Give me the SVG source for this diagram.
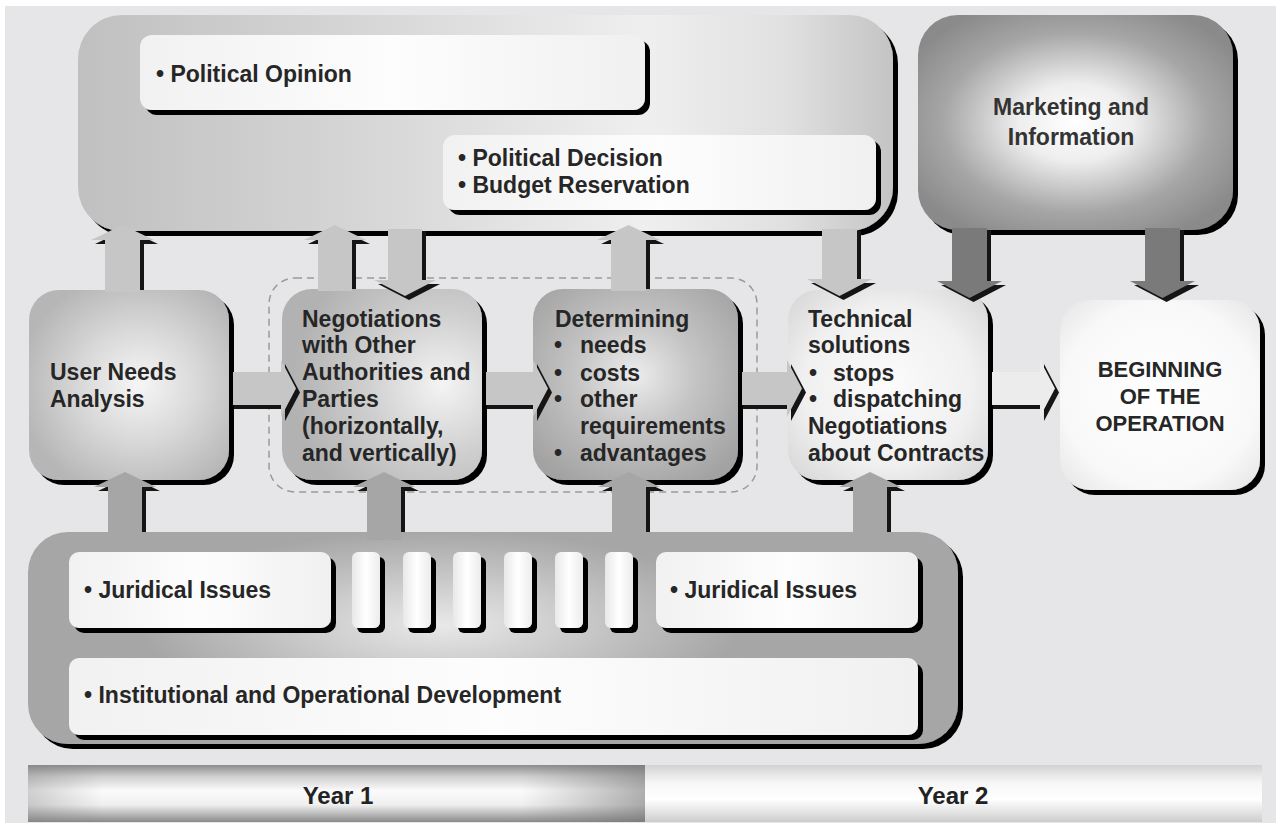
<svg xmlns="http://www.w3.org/2000/svg" width="1281" height="827" viewBox="0 0 1281 827">
<defs>
<filter id="sh" filterUnits="userSpaceOnUse" x="0" y="0" width="1281" height="827">
<feOffset in="SourceAlpha" dx="5" dy="5" result="o"/>
<feMerge><feMergeNode in="o"/><feMergeNode in="SourceGraphic"/></feMerge>
</filter>
<linearGradient id="gTop" x1="0" y1="0" x2="1" y2="0">
<stop offset="0" stop-color="#c0c0c0"/><stop offset="0.35" stop-color="#d6d6d6"/><stop offset="0.7" stop-color="#efefef"/><stop offset="0.87" stop-color="#e0e0e0"/><stop offset="1" stop-color="#c4c4c4"/>
</linearGradient>
<radialGradient id="gMkt" cx="0.5" cy="0.5" r="0.6">
<stop offset="0" stop-color="#ffffff"/><stop offset="0.3" stop-color="#eeeeee"/><stop offset="0.7" stop-color="#a6a6a6"/><stop offset="1" stop-color="#8a8a8a"/>
</radialGradient>
<linearGradient id="gW" x1="0" y1="0" x2="1" y2="0">
<stop offset="0" stop-color="#f1f1f1"/><stop offset="0.5" stop-color="#fdfdfd"/><stop offset="1" stop-color="#f0f0f0"/>
</linearGradient>
<linearGradient id="gBar" x1="0" y1="0" x2="1" y2="0">
<stop offset="0" stop-color="#e8e8e8"/><stop offset="0.5" stop-color="#ffffff"/><stop offset="1" stop-color="#ececec"/>
</linearGradient>
<radialGradient id="gUN" cx="0.55" cy="0.5" r="0.6">
<stop offset="0" stop-color="#f6f6f6"/><stop offset="0.5" stop-color="#d8d8d8"/><stop offset="1" stop-color="#b6b6b6"/>
</radialGradient>
<radialGradient id="gNeg" cx="0.8" cy="0.5" r="0.75">
<stop offset="0" stop-color="#f4f4f4"/><stop offset="0.5" stop-color="#cfcfcf"/><stop offset="1" stop-color="#b2b2b2"/>
</radialGradient>
<radialGradient id="gDet" cx="0.5" cy="0.45" r="0.65">
<stop offset="0" stop-color="#ececec"/><stop offset="0.45" stop-color="#c4c4c4"/><stop offset="1" stop-color="#a2a2a2"/>
</radialGradient>
<radialGradient id="gTech" cx="0.5" cy="0.5" r="0.7">
<stop offset="0" stop-color="#fbfbfb"/><stop offset="0.6" stop-color="#f0f0f0"/><stop offset="1" stop-color="#d4d4d4"/>
</radialGradient>
<radialGradient id="gBeg" cx="0.5" cy="0.5" r="0.7">
<stop offset="0" stop-color="#ffffff"/><stop offset="0.7" stop-color="#f8f8f8"/><stop offset="1" stop-color="#e4e4e4"/>
</radialGradient>
<radialGradient id="gGlow" cx="0.5" cy="0.5" r="0.5">
<stop offset="0" stop-color="#ffffff" stop-opacity="0.75"/><stop offset="1" stop-color="#ffffff" stop-opacity="0"/>
</radialGradient>
<linearGradient id="gY1" x1="0" y1="0" x2="0" y2="1">
<stop offset="0" stop-color="#8c8c8c"/><stop offset="0.2" stop-color="#cfcfcf"/><stop offset="0.45" stop-color="#fbfbfb"/><stop offset="0.7" stop-color="#efefef"/><stop offset="0.9" stop-color="#acacac"/><stop offset="1" stop-color="#8a8a8a"/>
</linearGradient>
<linearGradient id="gY1h" x1="0" y1="0" x2="1" y2="0">
<stop offset="0" stop-color="#808080" stop-opacity="0.35"/><stop offset="0.12" stop-color="#808080" stop-opacity="0"/><stop offset="0.8" stop-color="#808080" stop-opacity="0"/><stop offset="1" stop-color="#707070" stop-opacity="0.55"/>
</linearGradient>
<linearGradient id="gY2" x1="0" y1="0" x2="0" y2="1">
<stop offset="0" stop-color="#d2d2d2"/><stop offset="0.3" stop-color="#f6f6f6"/><stop offset="0.6" stop-color="#ffffff"/><stop offset="0.9" stop-color="#dadada"/><stop offset="1" stop-color="#cccccc"/>
</linearGradient>
<style>
.t{font-family:"Liberation Sans",Arial,sans-serif;font-weight:bold;font-size:23px;fill:#262626}
.tc{text-anchor:middle}
.sd{fill:#151515}
.al{fill:#c6c6c6}
.ad{fill:#7a7a7a}
.ab{fill:#a6a6a6}
.aw{fill:#ececec}
.wb{fill:url(#gW)}
</style>
</defs>

<rect x="0" y="0" width="1281" height="827" fill="#ffffff"/>
<rect x="5" y="6" width="1271" height="817" fill="#e6e6e8"/>

<g id="top-container">
<rect x="78" y="15" width="815" height="216" rx="44" fill="url(#gTop)" filter="url(#sh)"/>
</g>
<g id="political-opinion">
<rect x="140" y="35" width="505" height="75" rx="12" class="wb" filter="url(#sh)"/>
<text class="t" x="156" y="82">• Political Opinion</text>
</g>
<g id="political-decision">
<rect x="443" y="135" width="433" height="75" rx="12" class="wb" filter="url(#sh)"/>
<text class="t" x="458" y="166">• Political Decision</text>
<text class="t" x="458" y="193">• Budget Reservation</text>
</g>

<g id="marketing">
<rect x="918" y="15" width="315" height="215" rx="40" fill="url(#gMkt)" filter="url(#sh)"/>
<text class="t tc" x="1071" y="115" style="fill:#333">Marketing and</text>
<text class="t tc" x="1071" y="145" style="fill:#333">Information</text>
</g>

<g id="bottom-container">
<rect x="28" y="532" width="930" height="212" rx="40" fill="#a6a6a6" filter="url(#sh)"/>
<ellipse cx="440" cy="625" rx="300" ry="95" fill="url(#gGlow)"/>
</g>
<g id="juridical-left">
<rect x="69" y="552" width="262" height="76" rx="10" class="wb" filter="url(#sh)"/>
<text class="t" x="84" y="598">• Juridical Issues</text>
</g>
<g id="bars">
<rect x="352" y="552" width="28" height="76" rx="6" fill="url(#gBar)" filter="url(#sh)"/>
<rect x="403" y="552" width="28" height="76" rx="6" fill="url(#gBar)" filter="url(#sh)"/>
<rect x="453" y="552" width="28" height="76" rx="6" fill="url(#gBar)" filter="url(#sh)"/>
<rect x="504" y="552" width="28" height="76" rx="6" fill="url(#gBar)" filter="url(#sh)"/>
<rect x="555" y="552" width="28" height="76" rx="6" fill="url(#gBar)" filter="url(#sh)"/>
<rect x="605" y="552" width="28" height="76" rx="6" fill="url(#gBar)" filter="url(#sh)"/>
</g>
<g id="juridical-right">
<rect x="656" y="552" width="262" height="76" rx="10" class="wb" filter="url(#sh)"/>
<text class="t" x="670" y="598">• Juridical Issues</text>
</g>
<g id="institutional">
<rect x="69" y="658" width="849" height="77" rx="10" class="wb" filter="url(#sh)"/>
<text class="t" x="84" y="703">• Institutional and Operational Development</text>
</g>

<g id="group-dashed">
<rect x="269" y="278" width="488" height="214" rx="26" fill="none" stroke="#9a9a9a" stroke-width="1.5" stroke-dasharray="7,5"/>
</g>

<g id="user-needs">
<rect x="29" y="290" width="200" height="190" rx="30" fill="url(#gUN)" filter="url(#sh)"/>
<text class="t" x="50" y="380">User Needs</text>
<text class="t" x="50" y="407">Analysis</text>
</g>
<g id="negotiations">
<rect x="282" y="289" width="200" height="191" rx="30" fill="url(#gNeg)" filter="url(#sh)"/>
<text class="t" x="302" y="327">Negotiations</text>
<text class="t" x="302" y="353">with Other</text>
<text class="t" x="302" y="380">Authorities and</text>
<text class="t" x="302" y="407">Parties</text>
<text class="t" x="302" y="434">(horizontally,</text>
<text class="t" x="302" y="461">and vertically)</text>
</g>
<g id="determining">
<rect x="533" y="289" width="205" height="191" rx="30" fill="url(#gDet)" filter="url(#sh)"/>
<text class="t" x="555" y="327">Determining</text>
<text class="t" x="554" y="353">•</text><text class="t" x="580" y="353">needs</text>
<text class="t" x="554" y="381">•</text><text class="t" x="580" y="381">costs</text>
<text class="t" x="554" y="407">•</text><text class="t" x="580" y="407">other</text>
<text class="t" x="580" y="434">requirements</text>
<text class="t" x="554" y="461">•</text><text class="t" x="580" y="461">advantages</text>
</g>
<g id="technical">
<rect x="788" y="290" width="200" height="190" rx="30" fill="url(#gTech)" filter="url(#sh)"/>
<text class="t" x="808" y="327">Technical</text>
<text class="t" x="808" y="353">solutions</text>
<text class="t" x="809" y="381">•</text><text class="t" x="833" y="381">stops</text>
<text class="t" x="809" y="407">•</text><text class="t" x="833" y="407">dispatching</text>
<text class="t" x="808" y="434">Negotiations</text>
<text class="t" x="808" y="461">about Contracts</text>
</g>
<g id="beginning">
<rect x="1060" y="300" width="200" height="190" rx="30" fill="url(#gBeg)" filter="url(#sh)"/>
<text class="t tc" x="1160" y="377" style="font-size:22px">BEGINNING</text>
<text class="t tc" x="1160" y="404" style="font-size:22px">OF THE</text>
<text class="t tc" x="1160" y="431" style="font-size:22px">OPERATION</text>
</g>

<g id="connectors">
<!-- up arrows from nodes to top container -->
<path class="sd" transform="translate(4,4)" d="M105,286 L105,240 L91,240 L122.5,225 L154,240 L140,240 L140,286 Z"/>
<path class="al" d="M105,292 L105,240 L91,240 L122.5,225 L154,240 L140,240 L140,292 Z"/>
<path class="sd" transform="translate(4,4)" d="M318,285 L318,240 L304,240 L335,225 L366,240 L352,240 L352,285 Z"/>
<path class="al" d="M318,291 L318,240 L304,240 L335,225 L366,240 L352,240 L352,291 Z"/>
<path class="sd" transform="translate(4,4)" d="M611,285 L611,240 L597,240 L628.5,225 L660,240 L646,240 L646,285 Z"/>
<path class="al" d="M611,291 L611,240 L597,240 L628.5,225 L660,240 L646,240 L646,291 Z"/>
<!-- down arrows from top container -->
<path class="sd" transform="translate(4,4)" d="M388,227 L388,280 L374,280 L405,296 L436,280 L422,280 L422,227 Z"/>
<path class="al" d="M388,229 L388,280 L374,280 L405,296 L436,280 L422,280 L422,229 Z"/>
<path class="sd" transform="translate(4,4)" d="M822,227 L822,279 L807,279 L839.5,296 L872,279 L857,279 L857,227 Z"/>
<path class="al" d="M822,229 L822,279 L807,279 L839.5,296 L872,279 L857,279 L857,229 Z"/>
<!-- marketing down arrows -->
<path class="sd" transform="translate(4,4)" d="M952,226 L952,281 L937,281 L969.5,298 L1002,281 L987,281 L987,226 Z"/>
<path class="ad" d="M952,228 L952,281 L937,281 L969.5,298 L1002,281 L987,281 L987,228 Z"/>
<path class="sd" transform="translate(4,4)" d="M1145,226 L1145,281 L1130,281 L1162.5,298 L1195,281 L1180,281 L1180,226 Z"/>
<path class="ad" d="M1145,228 L1145,281 L1130,281 L1162.5,298 L1195,281 L1180,281 L1180,228 Z"/>
<!-- horizontal arrows -->
<path class="sd" transform="translate(4,4)" d="M230,372 L281,372 L281,360 L296,388.5 L281,417 L281,405 L230,405 Z"/>
<path class="al" d="M233,372 L281,372 L281,360 L296,388.5 L281,417 L281,405 L233,405 Z"/>
<path class="sd" transform="translate(4,4)" d="M483,372 L533,372 L533,360 L548,388.5 L533,417 L533,405 L483,405 Z"/>
<path class="al" d="M486,372 L533,372 L533,360 L548,388.5 L533,417 L533,405 L486,405 Z"/>
<path class="sd" transform="translate(4,4)" d="M739,372 L787,372 L787,360 L802,388.5 L787,417 L787,405 L739,405 Z"/>
<path class="al" d="M742,372 L787,372 L787,360 L802,388.5 L787,417 L787,405 L742,405 Z"/>
<path class="sd" transform="translate(4,4)" d="M989,372 L1040,372 L1040,360 L1055,388.5 L1040,417 L1040,405 L989,405 Z"/>
<path class="aw" d="M992,372 L1040,372 L1040,360 L1055,388.5 L1040,417 L1040,405 L992,405 Z"/>
<!-- up arrows from bottom container -->
<path class="sd" transform="translate(4,4)" d="M108,528 L108,487 L94,487 L125,472 L156,487 L142,487 L142,528 Z"/>
<path class="ab" d="M108,540 L108,487 L94,487 L125,472 L156,487 L142,487 L142,540 Z"/>
<path class="sd" transform="translate(4,4)" d="M367,528 L367,487 L353,487 L384,472 L415,487 L401,487 L401,528 Z"/>
<path class="ab" d="M367,540 L367,487 L353,487 L384,472 L415,487 L401,487 L401,540 Z"/>
<path class="sd" transform="translate(4,4)" d="M612,528 L612,487 L598,487 L629,472 L660,487 L646,487 L646,528 Z"/>
<path class="ab" d="M612,540 L612,487 L598,487 L629,472 L660,487 L646,487 L646,540 Z"/>
<path class="sd" transform="translate(4,4)" d="M853,528 L853,487 L839,487 L870,472 L901,487 L887,487 L887,528 Z"/>
<path class="ab" d="M853,540 L853,487 L839,487 L870,472 L901,487 L887,487 L887,540 Z"/>
</g>

<g id="year-1">
<rect x="28" y="765" width="617" height="57" fill="url(#gY1)"/>
<rect x="28" y="765" width="617" height="57" fill="url(#gY1h)"/>
<text class="t tc" x="338" y="804" style="font-size:24px;fill:#222">Year 1</text>
</g>
<g id="year-2">
<rect x="645" y="765" width="617" height="57" fill="url(#gY2)"/>
<text class="t tc" x="953" y="804" style="font-size:24px;fill:#222">Year 2</text>
</g>
</svg>
